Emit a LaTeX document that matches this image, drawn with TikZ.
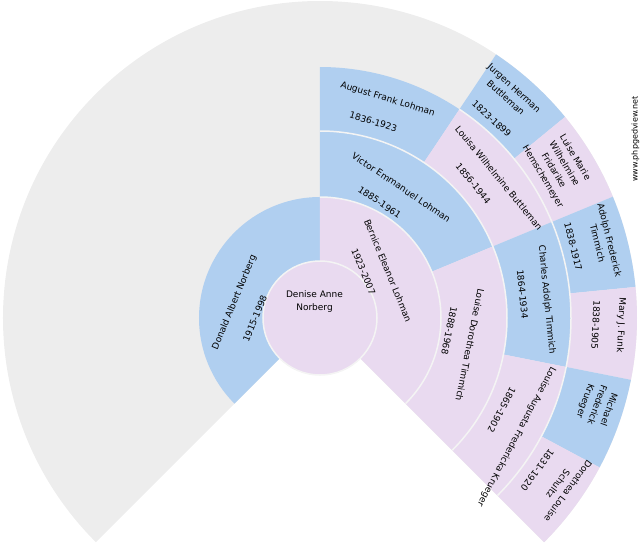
\documentclass[tikz,border=0pt]{standalone}
\usepackage{fontspec}
\setmainfont{DejaVu Sans}
\definecolor{maleblue}{HTML}{B0CFF0}
\definecolor{femalepink}{HTML}{E9DAF0}
\definecolor{emptygray}{HTML}{EDEDED}
\definecolor{sepgray}{HTML}{F4F4F4}
\begin{document}
\begin{tikzpicture}[x=1pt, y=1pt,
		male/.style={fill=maleblue},
		female/.style={fill=femalepink},
		sep/.style={draw=sepgray, line width=1.5pt},
		lbl/.style={font=\fontsize{9}{12.5}\selectfont, align=center, inner sep=0pt}]
		\useasboundingbox (-320,-232) rectangle (320,318);
		
		% Empty fan
		\fill[emptygray] (0,0) -- (-45:317pt) arc[start angle=-45, end angle=225, radius=317pt] -- cycle;
		
		% Parents
		\fill[male] (90:57pt) -- (90:121pt) arc[start angle=90, end angle=225, radius=121pt] -- (225:57pt) arc[start angle=225, end angle=90, radius=57pt] -- cycle;
		\fill[female] (-45:57pt) -- (-45:121pt) arc[start angle=-45, end angle=90, radius=121pt] -- (90:57pt) arc[start angle=90, end angle=-45, radius=57pt] -- cycle;
		
		% Grandparents
		\fill[male] (22.5:121pt) -- (22.5:187pt) arc[start angle=22.5, end angle=90, radius=187pt] -- (90:121pt) arc[start angle=90, end angle=22.5, radius=121pt] -- cycle;
		\fill[female] (-45:121pt) -- (-45:187pt) arc[start angle=-45, end angle=22.5, radius=187pt] -- (22.5:121pt) arc[start angle=22.5, end angle=-45, radius=121pt] -- cycle;
		
		% Great-grandparents
		\fill[male] (56.25:187pt) -- (56.25:251pt) arc[start angle=56.25, end angle=90, radius=251pt] -- (90:187pt) arc[start angle=90, end angle=56.25, radius=187pt] -- cycle;
		\fill[female] (22.5:187pt) -- (22.5:251pt) arc[start angle=22.5, end angle=56.25, radius=251pt] -- (56.25:187pt) arc[start angle=56.25, end angle=22.5, radius=187pt] -- cycle;
		\fill[male] (-11.25:187pt) -- (-11.25:251pt) arc[start angle=-11.25, end angle=22.5, radius=251pt] -- (22.5:187pt) arc[start angle=22.5, end angle=-11.25, radius=187pt] -- cycle;
		\fill[female] (-45:187pt) -- (-45:251pt) arc[start angle=-45, end angle=-11.25, radius=251pt] -- (-11.25:187pt) arc[start angle=-11.25, end angle=-45, radius=187pt] -- cycle;
		
		% Great-great-grandparents
		\fill[male] (39.375:251pt) -- (39.375:317pt) arc[start angle=39.375, end angle=56.25, radius=317pt] -- (56.25:251pt) arc[start angle=56.25, end angle=39.375, radius=251pt] -- cycle;
		\fill[female] (22.5:251pt) -- (22.5:317pt) arc[start angle=22.5, end angle=39.375, radius=317pt] -- (39.375:251pt) arc[start angle=39.375, end angle=22.5, radius=251pt] -- cycle;
		\fill[male] (5.625:251pt) -- (5.625:317pt) arc[start angle=5.625, end angle=22.5, radius=317pt] -- (22.5:251pt) arc[start angle=22.5, end angle=5.625, radius=251pt] -- cycle;
		\fill[female] (-11.25:251pt) -- (-11.25:317pt) arc[start angle=-11.25, end angle=5.625, radius=317pt] -- (5.625:251pt) arc[start angle=5.625, end angle=-11.25, radius=251pt] -- cycle;
		\fill[male] (-28.125:251pt) -- (-28.125:317pt) arc[start angle=-28.125, end angle=-11.25, radius=317pt] -- (-11.25:251pt) arc[start angle=-11.25, end angle=-28.125, radius=251pt] -- cycle;
		\fill[female] (-45:251pt) -- (-45:317pt) arc[start angle=-45, end angle=-28.125, radius=317pt] -- (-28.125:251pt) arc[start angle=-28.125, end angle=-45, radius=251pt] -- cycle;
		
		% Ring separators
		\draw[sep] (-45:121pt) arc[start angle=-45, end angle=90, radius=121pt];
		\draw[sep] (-45:187pt) arc[start angle=-45, end angle=90, radius=187pt];
		\draw[sep] (-45:251pt) arc[start angle=-45, end angle=56.25, radius=251pt];
		
		% Root person
		\filldraw[female, sep] (0,0) circle[radius=57pt];
		\node[lbl] (denise) at (-5.5,16.5) {Denise Anne\\Norberg};
		
		% Generation 1
		\node[lbl, rotate=67.5] (donald) at (-85.5,15.5) {Donald Albert Norberg};
		\node[lbl, rotate=67.5] (donald-yr) at (-65,-0.5) {1915-1998};
		\node[lbl, rotate=-67.5] (bernice) at (68,47.5) {Bernice Eleanor Lohman};
		\node[lbl, rotate=-67.5] (bernice-yr) at (43.5,46.5) {1923-2007};
		
		% Generation 2
		\node[lbl, rotate=-33.75] (victor) at (81.3,130.7) {Victor Emmanuel Lohman};
		\node[lbl, rotate=-33.75] (victor-yr) at (59.7,115.7) {1885-1961};
		\node[lbl, rotate=-101.25] (dorothea) at (150,-27) {Louise Dorothea Timmich};
		\node[lbl, rotate=-101.25] (dorothea-yr) at (129.2,-12.8) {1888-1968};
		
		% Generation 3
		\node[lbl, rotate=-16.875] (august) at (67.7,218.7) {August Frank Lohman};
		\node[lbl, rotate=-16.875] (august-yr) at (53.3,196.3) {1836-1923};
		\node[lbl, rotate=-50.625] (louisa) at (179,140) {Louisa Wilhelmine Buttleman};
		\node[lbl, rotate=-50.625] (louisa-yr) at (153.3,134.5) {1856-1944};
		\node[lbl, rotate=-84.375] (charles) at (226.7,18) {Charles Adolph Timmich};
		\node[lbl, rotate=-84.375] (charles-yr) at (202.5,23.8) {1864-1934};
		\node[lbl, rotate=-118.125] (augusta) at (196.5,-118.5) {Louise Augusta Fredericka Krueger};
		\node[lbl, rotate=-118.125] (augusta-yr) at (181.7,-92) {1865-1902};
		
		% Generation 4
		\node[lbl, rotate=-42.1875] (jurgen) at (190,225.1) {Jurgen Herman\\Buttleman};
		\node[lbl, rotate=-42.1875] (jurgen-yr) at (171.7,199.3) {1823-1899};
		\node[lbl, rotate=-59.0625] (luise) at (238.75,150.8) {Luise Marie\\Wilhelmine\\Fridarike\\Hemschemeyer};
		\node[lbl, rotate=-75.9375] (adolph) at (283.75,76.3) {Adolph Frederick\\Timmich};
		\node[lbl, rotate=-75.9375] (adolph-yr) at (253.3,71.3) {1838-1917};
		\node[lbl, rotate=-92.8125] (mary) at (300.8,-7) {Mary J. Funk};
		\node[lbl, rotate=-92.8125] (mary-yr) at (275.8,-7) {1838-1905};
		\node[lbl, rotate=-109.6875] (michael) at (276.7,-87) {Michael\\Frederick\\Krueger};
		\node[lbl, rotate=-126.5625] (schultz) at (243.3,-169.5) {Dorothea Louise\\Schultz};
		\node[lbl, rotate=-126.5625] (schultz-yr) at (217.5,-152) {1831-1920};
		
		% Watermark
		\node[font=\fontsize{8}{9}\selectfont, rotate=90, inner sep=0pt] (site) at (315.5,179) {www.phpgedview.net};
	\end{tikzpicture}
\end{document}
